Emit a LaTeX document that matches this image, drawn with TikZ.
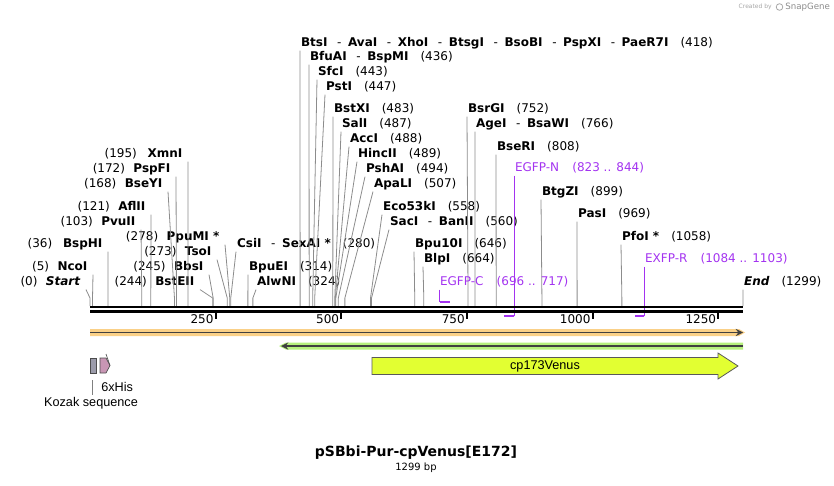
\documentclass[tikz,border=0pt]{standalone}
\usepackage{fontspec}
\setmainfont{DejaVu Sans}
\newfontfamily\featfont{Liberation Sans}
\usepackage{tikz}

\definecolor{primer}{RGB}{163,51,240}
\definecolor{orangebar}{RGB}{250,208,135}
\definecolor{greenbar}{RGB}{182,240,125}
\definecolor{venus}{RGB}{226,255,50}
\definecolor{kozak}{RGB}{155,155,170}
\definecolor{hisfill}{RGB}{200,150,180}
\newcommand{\bpx}[1]{90+#1*0.5027}
\newcommand{\alsocut}{\hspace{0.8em}-\hspace{0.55em}}

\begin{document}
\begin{tikzpicture}[x=0.75pt,y=-0.75pt,
  lbl/.style={anchor=west,inner xsep=0.6pt,inner ysep=1pt,text height=7pt,text depth=2pt,font=\fontsize{9}{10}\selectfont},
  lblr/.style={lbl,anchor=east,inner xsep=4pt},
  oligo/.style={lbl,color=primer},
  cut/.style={color=black!45,line width=0.6pt},
  feat/.style={font=\featfont\fontsize{9.5}{11}\selectfont}]
  \useasboundingbox (0,0) rectangle (834,485);

  % sites on the backbone
  \foreach \b in {0,5,36,103,121,168,172,195,244,245,273,278,280,314,324,418,436,443,447,483,487,488,489,494,507,558,560,646,664,752,766,808,899,969,1058,1299}
    \coordinate (s\b) at ({\bpx{\b}},306);

  % cut sites, left of their line
  \node[lblr] (c0) at (86,282) {(0)\hspace{0.7em}\textbf{\textit{Start}}};
  \node[lblr] (c5) at (93,267) {(5)\hspace{0.7em}\textbf{NcoI}};
  \node[lblr] (c36) at (108,244) {(36)\hspace{0.9em}\textbf{BspHI}};
  \node[lblr] (c103) at (141,222) {(103)\hspace{0.7em}\textbf{PvuII}};
  \node[lblr] (c121) at (151,207) {(121)\hspace{0.7em}\textbf{AflII}};
  \node[lblr] (c168) at (168,184) {(168)\hspace{0.7em}\textbf{BseYI}};
  \node[lblr] (c172) at (176,169) {(172)\hspace{0.7em}\textbf{PspFI}};
  \node[lblr] (c195) at (188,154) {(195)\hspace{0.9em}\textbf{XmnI}};
  \node[lblr] (c244) at (200,282) {(244)\hspace{0.7em}\textbf{BstEII}};
  \node[lblr] (c245) at (209,267) {(245)\hspace{0.7em}\textbf{BbsI}};
  \node[lblr] (c273) at (217,252) {(273)\hspace{0.7em}\textbf{TsoI}};
  \node[lblr] (c278) at (225,237) {(278)\hspace{0.7em}\textbf{PpuMI *}};

  % cut sites, right of their line
  \node[lbl] (c280) at (236,244) {\textbf{CsiI}\alsocut\textbf{SexAI *}\hspace{1em}(280)};
  \node[lbl] (c314) at (248,267) {\textbf{BpuEI}\hspace{1em}(314)};
  \node[lbl] (c324) at (256,282) {\textbf{AlwNI}\hspace{1em}(324)};
  \node[lbl] (c418) at (300,43) {\textbf{BtsI}\alsocut\textbf{AvaI}\alsocut\textbf{XhoI}\alsocut\textbf{BtsgI}\alsocut\textbf{BsoBI}\alsocut\textbf{PspXI}\alsocut\textbf{PaeR7I}\hspace{1em}(418)};
  \node[lbl] (c436) at (309,57) {\textbf{BfuAI}\alsocut\textbf{BspMI}\hspace{1em}(436)};
  \node[lbl] (c443) at (317,72) {\textbf{SfcI}\hspace{1em}(443)};
  \node[lbl] (c447) at (325,87) {\textbf{PstI}\hspace{1em}(447)};
  \node[lbl] (c483) at (333,109) {\textbf{BstXI}\hspace{1em}(483)};
  \node[lbl] (c487) at (341,124) {\textbf{SalI}\hspace{1em}(487)};
  \node[lbl] (c488) at (349,139) {\textbf{AccI}\hspace{1em}(488)};
  \node[lbl] (c489) at (357,154) {\textbf{HincII}\hspace{1em}(489)};
  \node[lbl] (c494) at (365,169) {\textbf{PshAI}\hspace{1em}(494)};
  \node[lbl] (c507) at (373,184) {\textbf{ApaLI}\hspace{1em}(507)};
  \node[lbl] (c558) at (382,207) {\textbf{Eco53kI}\hspace{1em}(558)};
  \node[lbl] (c560) at (389,222) {\textbf{SacI}\alsocut\textbf{BanII}\hspace{1em}(560)};
  \node[lbl] (c646) at (414,244) {\textbf{Bpu10I}\hspace{1em}(646)};
  \node[lbl] (c664) at (423,259) {\textbf{BlpI}\hspace{1em}(664)};
  \node[lbl] (c752) at (467,109) {\textbf{BsrGI}\hspace{1em}(752)};
  \node[lbl] (c766) at (475,124) {\textbf{AgeI}\alsocut\textbf{BsaWI}\hspace{1em}(766)};
  \node[lbl] (c808) at (496,147) {\textbf{BseRI}\hspace{1em}(808)};
  \node[lbl] (c899) at (541,192) {\textbf{BtgZI}\hspace{1em}(899)};
  \node[lbl] (c969) at (577,214) {\textbf{PasI}\hspace{1em}(969)};
  \node[lbl] (c1058) at (621,237) {\textbf{PfoI *}\hspace{1em}(1058)};
  \node[lbl] (c1299) at (743,282) {\textbf{\textit{End}}\hspace{1em}(1299)};

  \foreach \b in {0,5,36,103,121,168,172,195,244,245,273,278}
    \draw[cut] (c\b.south east) -- (s\b |- 0,298) -- (s\b);
  \foreach \b in {280,314,324,418,436,443,447,483,487,488,489,494,507,558,560,646,664,752,766,808,899,969,1058,1299}
    \draw[cut] (c\b.south west) -- (s\b |- 0,298) -- (s\b);

  % primers
  \node[oligo] (egfpc) at (439,282) {EGFP-C\hspace{1.1em}(696 .. 717)};
  \node[oligo] (egfpn) at (514,168) {EGFP-N\hspace{1.1em}(823 .. 844)};
  \node[oligo] (exfpr) at (644,259) {EXFP-R\hspace{1.1em}(1084 .. 1103)};
  \coordinate (pc) at ({\bpx{696}},302);
  \coordinate (pn) at ({\bpx{844}},316);
  \coordinate (pr) at ({\bpx{1103}},316);
  \draw[primer,line width=0.7pt] (egfpc.south west) -- (egfpc.south west |- pc);
  \draw[primer,line width=0.7pt] (egfpn.south west) -- (egfpn.south west |- pn);
  \draw[primer,line width=0.7pt] (exfpr.south west) -- (exfpr.south west |- pr);
  \draw[primer,line width=1.6pt] (pc) -- ++(10.6,0);
  \draw[primer,line width=1.6pt] (pn) -- ++(-10.6,0);
  \draw[primer,line width=1.6pt] (pr) -- ++(-9.6,0);

  % backbone and ruler
  \draw[line width=2pt] (90,307) -- (743,307);
  \draw[line width=2pt] (90,311.3) -- (743,311.3);
  \foreach \t in {250,500,750,1000,1250} {
    \draw[line width=1.4pt] ({\bpx{\t}},311) -- ({\bpx{\t}},318.5);
    \node[anchor=east,inner sep=0pt,font=\fontsize{9}{10}\selectfont] (t\t) at ({\bpx{\t}-2},319.5) {\t};
  }

  % features
  \fill[orangebar] (90,329) -- (739,329) -- (745,332.5) -- (739,336) -- (90,336) -- cycle;
  \draw[black!75,line width=1.4pt,-stealth] (90,332.5) -- (743,332.5);
  \fill[greenbar] (743,342.5) -- (286,342.5) -- (279,346) -- (286,349.5) -- (743,349.5) -- cycle;
  \draw[black!75,line width=1.4pt,stealth-] (281,346) -- (743,346);

  \draw[black!70,fill=kozak,line width=0.5pt] (90,358) rectangle (96,373);
  \draw[black!70,fill=hisfill,line width=0.5pt] (100,358) -- (106,358) -- (110,365.5) -- (106,373) -- (100,373) -- cycle;
  \draw[black!70,line width=0.5pt] (106,354) -- (110,365.5);
  \draw[black!50,line width=0.6pt] (92.5,380) -- (92.5,395);
  \node[feat,anchor=west,inner sep=0pt] (his) at (101,387) {6xHis};
  \node[feat,inner sep=0pt] (koz) at (91,403.5) {Kozak sequence};

  \draw[black!65,fill=venus,line width=0.6pt] (372,357.5) -- (718,357.5) -- (718,353) -- (738,366) -- (718,379) -- (718,374.5) -- (372,374.5) -- cycle;
  \node[feat,inner sep=0pt] (venus) at (545,366) {cp173Venus};

  % title
  \node[font=\bfseries\fontsize{10.5}{12}\selectfont,inner sep=0pt] (title) at (416,453) {pSBbi-Pur-cpVenus[E172]};
  \node[font=\fontsize{7.5}{9}\selectfont,inner sep=0pt] (size) at (416,468) {1299 bp};

  \node[anchor=east,inner sep=0pt,color=black!35,font=\fontsize{4.5}{5}\selectfont] (made) at (772,7) {Created by};
  \draw[black!35,line width=0.6pt] (779.5,7) circle (3.3);
  \node[anchor=west,inner sep=0pt,color=black!45,font=\fontsize{6.5}{7}\selectfont] (sg) at (785,7) {SnapGene};
\end{tikzpicture}
\end{document}
